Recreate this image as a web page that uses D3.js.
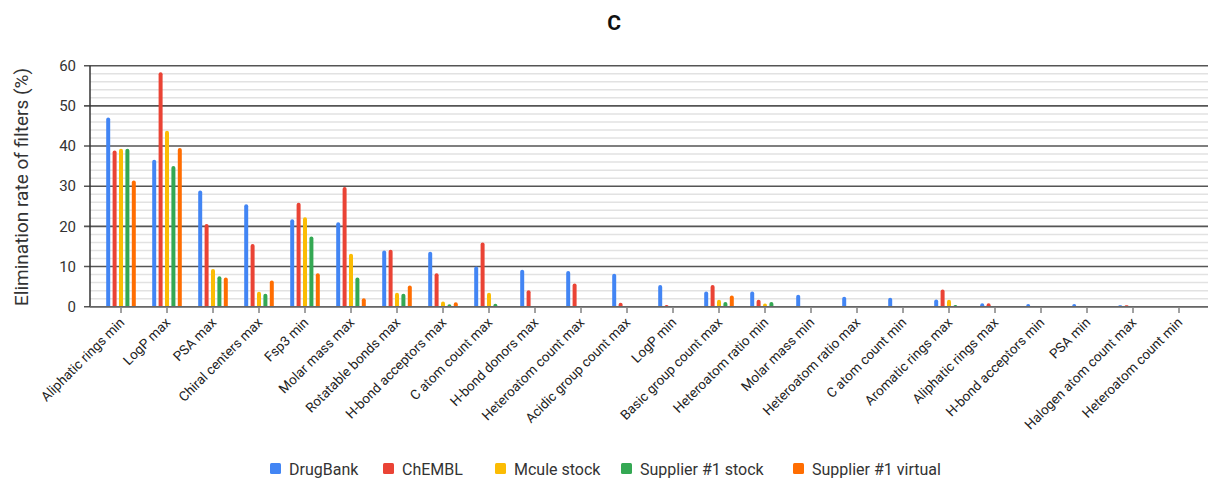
<!DOCTYPE html>
<html><head><meta charset="utf-8">
<script src="https://cdn.jsdelivr.net/npm/d3@7"></script>
<style>body{margin:0;background:#fff;} text{font-family:Roboto,"Liberation Sans",Arial,sans-serif;}</style>
</head><body><svg id="c" width="1213" height="481"></svg>
<script>
const categories = ["Aliphatic rings min","LogP max","PSA max","Chiral centers max","Fsp3 min","Molar mass max","Rotatable bonds max","H-bond acceptors max","C atom count max","H-bond donors max","Heteroatom count max","Acidic group count max","LogP min","Basic group count max","Heteroatom ratio min","Molar mass min","Heteroatom ratio max","C atom count min","Aromatic rings max","Aliphatic rings max","H-bond acceptors min","PSA min","Halogen atom count max","Heteroatom count min"];
const seriesNames = ["DrugBank","ChEMBL","Mcule stock","Supplier #1 stock","Supplier #1 virtual"];
const seriesColors = ["#4285F4","#EA4335","#FBBC04","#34A853","#FF6D01"];
const drugbank  = [47.1,36.6,28.9,25.5,21.8,21.0,14.0,13.7,10.0,9.2,8.9,8.2,5.4,3.8,3.8,3.0,2.5,2.2,1.8,0.85,0.7,0.7,0.35,0.05];
const chembl    = [38.9,58.4,20.6,15.6,25.9,29.8,14.2,8.3,16.0,4.1,5.8,1.0,0.4,5.4,1.7,0.1,0.1,0.1,4.3,0.85,0.1,0.1,0.35,0.05];
const mcule     = [39.3,43.8,9.4,3.7,22.3,13.2,3.5,1.3,3.5,0.1,0.2,0.1,0.1,1.7,0.8,0.1,0.1,0.1,1.7,0.1,0.1,0.1,0.1,0.05];
const supplier1 = [39.3,35.0,7.6,3.2,17.5,7.3,3.2,0.6,0.75,0.05,0.05,0.05,0.05,1.2,1.2,0.05,0.05,0.05,0.4,0.05,0.05,0.05,0.05,0.05];
const supplierV = [31.4,39.5,7.3,6.5,8.3,2.1,5.3,1.1,0.1,0.05,0.1,0.05,0.05,2.8,0.1,0.05,0.05,0.05,0.1,0.05,0.05,0.05,0.05,0.05];
const yTicks = [0,10,20,30,40,50,60];
const series = [drugbank,chembl,mcule,supplier1,supplierV];

const svg = d3.select("#c");
const x0 = d3.scaleBand().domain(categories).range([98,1202]);
const x1 = d3.scaleBand().domain(seriesNames).range([x0.bandwidth()/2-16, x0.bandwidth()/2+16]);
const y = d3.scaleLinear().domain([0,60]).range([306.7,65.7]);
const gridL = 90, gridR = 1208;

// minor gridlines
svg.append("g").selectAll("line").data(d3.range(0,61,2).filter(v=>v%10!==0)).join("line")
  .attr("x1",gridL).attr("x2",gridR).attr("y1",d=>y(d)).attr("y2",d=>y(d))
  .attr("stroke","#e2e2e2").attr("stroke-width",1.5);
// major gridlines
svg.append("g").selectAll("line").data(yTicks).join("line")
  .attr("x1",84).attr("x2",gridR).attr("y1",d=>y(d)).attr("y2",d=>y(d))
  .attr("stroke","#555").attr("stroke-width",1.6);
// y axis line
svg.append("line").attr("x1",gridL).attr("x2",gridL).attr("y1",y(60)).attr("y2",y(0)).attr("stroke","#333").attr("stroke-width",1.5);
// y tick labels
svg.append("g").selectAll("text").data(yTicks).join("text")
  .attr("x",76).attr("y",d=>y(d)).attr("dy","0.35em").attr("text-anchor","end")
  .attr("font-size",15).attr("fill","#333").text(d=>d);

// bars with rounded tops
const bw = 4;
function barPath(xc, v){
  const top = y(v), bot = y(0), r = Math.min(2, (bot-top));
  const xl = xc-bw/2, xr = xc+bw/2;
  if (bot-top <= 0) return "";
  return `M${xl},${bot}L${xl},${top+r}Q${xl},${top} ${xl+r},${top}L${xr-r},${top}Q${xr},${top} ${xr},${top+r}L${xr},${bot}Z`;
}
series.forEach((vals,si)=>{
  svg.append("g").selectAll("path").data(vals).join("path")
    .attr("d",(v,i)=>barPath(x0(categories[i]) + x1(seriesNames[si]) + x1.bandwidth()/2, v))
    .attr("fill",seriesColors[si]);
});
// zero line on top
svg.append("line").attr("x1",gridL).attr("x2",gridR).attr("y1",y(0)).attr("y2",y(0)).attr("stroke","#666").attr("stroke-width",1.6);

// x tick marks and labels
const xa = svg.append("g");
xa.selectAll("line").data(categories).join("line")
  .attr("x1",d=>x0(d)+x0.bandwidth()/2).attr("x2",d=>x0(d)+x0.bandwidth()/2)
  .attr("y1",308).attr("y2",313).attr("stroke","#444").attr("stroke-width",1);
xa.selectAll("text").data(categories).join("text")
  .attr("transform",d=>`translate(${x0(d)+x0.bandwidth()/2+1},${320}) rotate(-45)`)
  .attr("text-anchor","end").attr("dy","0.35em")
  .attr("font-size",13.5).attr("fill","#222").text(d=>d);

// title
svg.append("text").attr("x",614).attr("y",30).attr("text-anchor","middle")
  .attr("font-size",21).attr("font-weight","bold").attr("fill","#111").text("C");

// y-axis title
svg.append("text").attr("transform","translate(28,187) rotate(-90)").attr("text-anchor","middle")
  .attr("font-size",19).attr("fill","#333").text("Elimination rate of filters (%)");

// legend
const legX = [270, 383, 495, 621, 793];
const lg = svg.append("g");
seriesNames.forEach((n,i)=>{
  lg.append("rect").attr("x",legX[i]).attr("y",463).attr("width",11).attr("height",11).attr("rx",1.5).attr("fill",seriesColors[i]);
  lg.append("text").attr("x",legX[i]+19).attr("y",469).attr("dy","0.35em").attr("font-size",16).attr("fill","#333").text(n);
});
</script></body></html>
